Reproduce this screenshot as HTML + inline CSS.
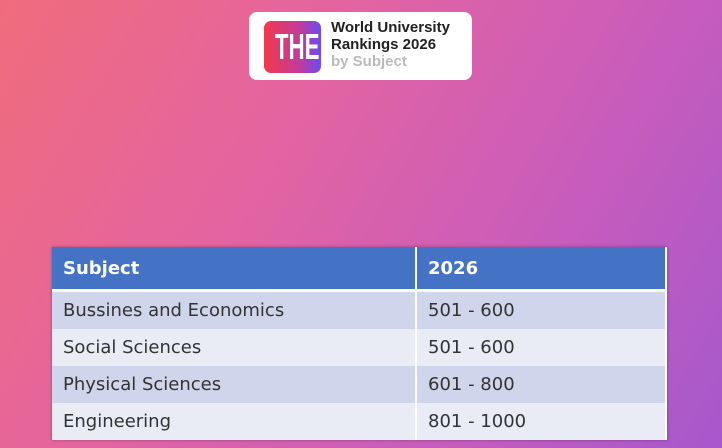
<!DOCTYPE html>
<html><head><style>
body{margin:0;width:722px;height:448px;overflow:hidden;position:relative;
background:linear-gradient(120deg,#f06c7c 0%,#e464a0 35%,#c85cbc 70%,#a658cc 100%);
font-family:"Liberation Sans",sans-serif;}
.logo{position:absolute;left:249px;top:12px;width:223px;height:68px;background:#fff;border-radius:8px;}
.the{position:absolute;left:15px;top:9px;width:57px;height:52px;border-radius:7px;
background:linear-gradient(90deg,#f33a4c,#c53a9a 60%,#6a4cf0);}
.the span{position:absolute;left:0;width:57px;top:0;color:#fff;font-weight:bold;font-size:36px;
text-align:center;line-height:52px;transform:scaleX(0.62);}
.t{position:absolute;left:82px;font-weight:bold;font-size:15px;color:#222;line-height:16px}
table{position:absolute;left:52px;top:247px;width:615px;border-collapse:collapse;
font-family:"DejaVu Sans","Liberation Sans",sans-serif;font-size:18px;color:#333;box-shadow:0 0 3px rgba(0,0,0,.3)}
td{padding:0 0 0 11px;border-right:2px solid #fff}
td:first-child{width:352px}
tr.h td{background:#4472c4;color:#fff;font-weight:bold;height:42px;border-bottom:3px solid #fff}
tr.a td{background:#cfd5ea;height:37px}
tr.b td{background:#e9ebf5;height:37px}
</style></head><body>
<div class="logo"><div class="the"><span>THE</span></div>
<div class="t" style="top:8px">World University</div>
<div class="t" style="top:25px">Rankings 2026</div>
<div class="t" style="top:42px;color:#bbb">by Subject</div></div>
<table>
<tr class="h"><td>Subject</td><td>2026</td></tr>
<tr class="a"><td>Bussines and Economics</td><td>501 - 600</td></tr>
<tr class="b"><td>Social Sciences</td><td>501 - 600</td></tr>
<tr class="a"><td>Physical Sciences</td><td>601 - 800</td></tr>
<tr class="b"><td>Engineering</td><td>801 - 1000</td></tr>
</table>
</body></html>
